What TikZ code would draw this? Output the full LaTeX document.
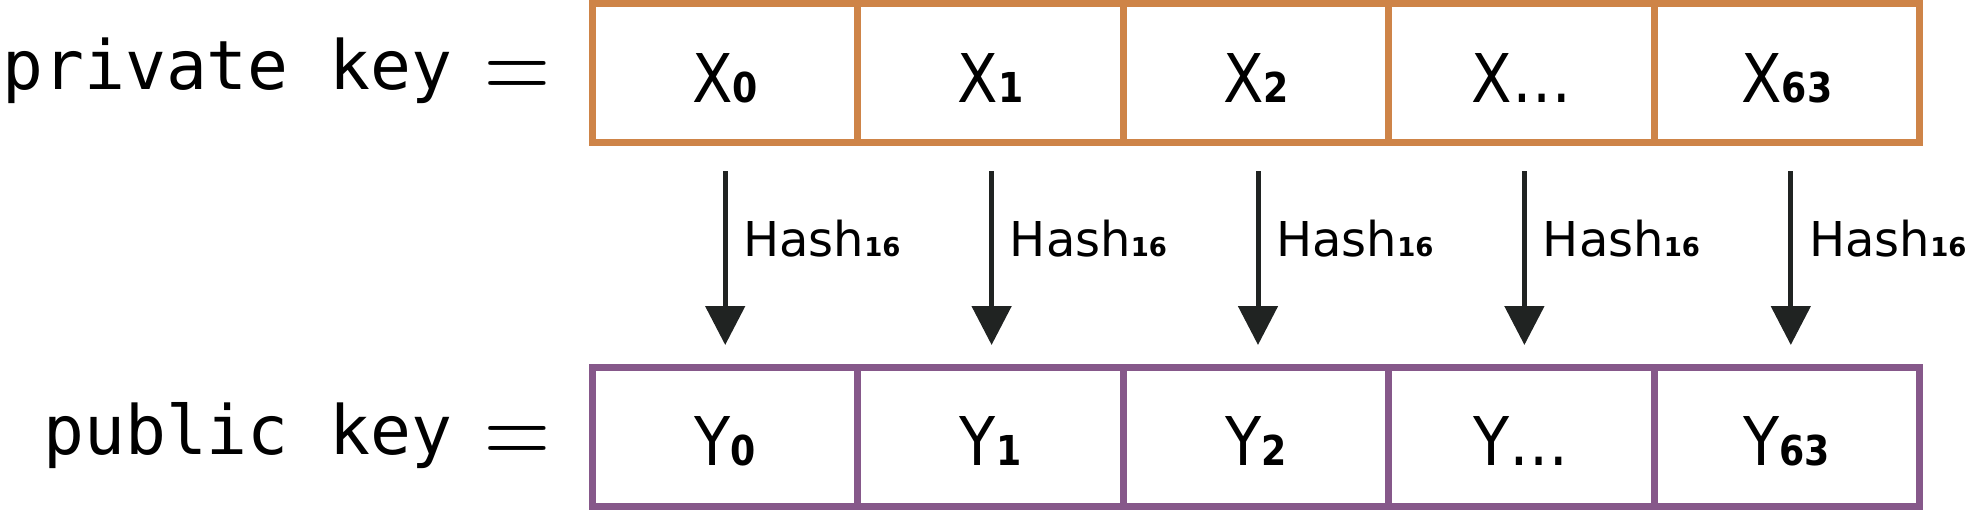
\documentclass[tikz,border=0pt]{standalone}
\usepackage{fontspec}
\usepackage{graphicx}
\usetikzlibrary{arrows.meta}
\newfontfamily\monof{DejaVu Sans Mono}
\newfontfamily\cellf[FakeStretch=0.88]{DejaVu Sans}
\newfontfamily\hashf{DejaVu Sans}
\definecolor{privc}{RGB}{206,132,72}
\definecolor{pubc}{RGB}{134,88,138}
\definecolor{arrc}{RGB}{32,35,34}
\newcommand{\cellsub}[2]{{\cellf\fontsize{33.6pt}{36pt}\selectfont #1}{\cellf\bfseries\fontsize{20.6pt}{22pt}\selectfont #2}}
\newcommand{\hashtxt}{{\hashf\fontsize{24pt}{26pt}\selectfont Hash}{\hashf\bfseries\fontsize{13pt}{14pt}\selectfont 16}}
\newcommand{\bigeq}{\scalebox{1}[1.23]{=}}
\tikzset{
  cellbox/.style={draw, line width=3.5pt, minimum width=132.7pt, minimum height=69.5pt,
    inner sep=0pt, text height=29.25pt, text depth=0pt, anchor=center},
  privcell/.style={cellbox, draw=privc},
  pubcell/.style={cellbox, draw=pubc},
  keylbl/.style={anchor=base east, inner sep=0pt, font=\monof\fontsize{34pt}{38pt}\selectfont},
  eqlbl/.style={anchor=base, inner sep=0pt, font=\fontsize{45.7pt}{50pt}\selectfont},
  hasharrow/.style={draw=arrc, line width=2.5pt, -{Triangle[length=19.5pt,width=19.5pt]}},
  hashlbl/.style={anchor=base west, inner sep=0pt},
}
\begin{document}
\begin{tikzpicture}[x=0.5pt,y=-0.5pt]
\useasboundingbox (0,0) rectangle (1966,510);
% labels
\node[keylbl] (privlbl) at (453,89) {private key};
\node[eqlbl] (priveq) at (517.5,101.5) {\bigeq};
\node[keylbl] (publbl) at (453,454) {public key};
\node[eqlbl] (pubeq) at (517.5,466) {\bigeq};
% private key cells
\node[privcell] (x0) at (725.2,73) {\cellsub{X}{0}};
\node[privcell] (x1) at (990.6,73) {\cellsub{X}{1}};
\node[privcell] (x2) at (1256.0,73) {\cellsub{X}{2}};
\node[privcell] (x3) at (1521.4,73) {\cellsub{X…}{}};
\node[privcell] (x4) at (1786.8,73) {\cellsub{X}{63}};
% public key cells
\node[pubcell] (y0) at (725.2,436.5) {\cellsub{Y}{0}};
\node[pubcell] (y1) at (990.6,436.5) {\cellsub{Y}{1}};
\node[pubcell] (y2) at (1256.0,436.5) {\cellsub{Y}{2}};
\node[pubcell] (y3) at (1521.4,436.5) {\cellsub{Y…}{}};
\node[pubcell] (y4) at (1786.8,436.5) {\cellsub{Y}{63}};
% hash arrows
\foreach \i in {0,...,4}{
  \draw[hasharrow] ([xshift=\i*0.5pt,yshift=-12.5pt]x\i.south) -- ([xshift=\i*0.5pt,yshift=9.25pt]y\i.north);
  \node[hashlbl] (h\i) at ({725+266.5*\i+18},256) {\hashtxt};
}
\end{tikzpicture}
\end{document}
